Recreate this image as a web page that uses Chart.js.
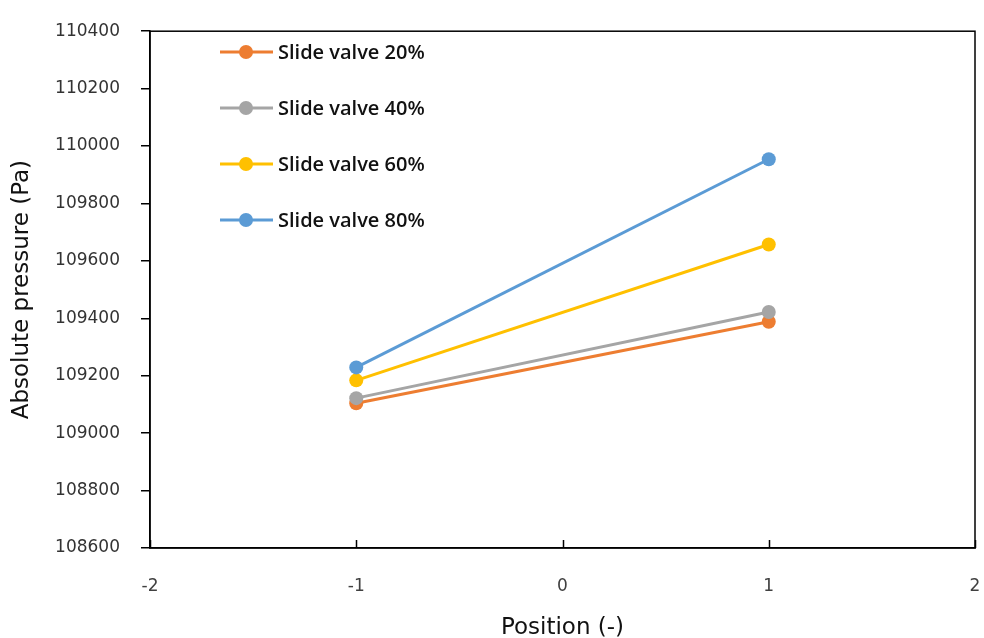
<!DOCTYPE html>
<html>
<head>
<meta charset="utf-8">
<script src="https://cdn.jsdelivr.net/npm/chart.js@4/dist/chart.umd.min.js"></script>
<style>
  html, body { margin: 0; padding: 0; background: #fff; }
  #wrap { width: 984px; height: 638px; position: relative; }
</style>
</head>
<body>
<div id="wrap"><canvas id="c"></canvas></div>
<script>
// Measurement positions along the x axis
const positions = [-1, 1];

// Absolute pressure (Pa) for each slide valve opening
const valve20 = [109104, 109388];
const valve40 = [109122, 109422];
const valve60 = [109184, 109657];
const valve80 = [109229, 109954];

const seriesNames = ['Slide valve 20%', 'Slide valve 40%', 'Slide valve 60%', 'Slide valve 80%'];
const seriesColors = ['#ED7D31', '#A5A5A5', '#FFC000', '#5B9BD5'];

const xTicks = [-2, -1, 0, 1, 2];
const yMin = 108600, yMax = 110400, yStep = 200;

const TICK_FONT = '"DejaVu Sans", sans-serif';
const LEGEND_FONT = '"Open Sans", "DejaVu Sans", sans-serif';

function makeSet(name, vals, color) {
  return {
    label: name,
    data: positions.map((x, i) => ({ x: x, y: vals[i] })),
    borderColor: color,
    backgroundColor: color,
    borderWidth: 3,
    pointRadius: 7,
    pointHoverRadius: 7,
    pointBorderWidth: 0,
    showLine: true,
    fill: false,
    tension: 0
  };
}

const datasets = [
  makeSet(seriesNames[0], valve20, seriesColors[0]),
  makeSet(seriesNames[1], valve40, seriesColors[1]),
  makeSet(seriesNames[2], valve60, seriesColors[2]),
  makeSet(seriesNames[3], valve80, seriesColors[3])
];
// later series are drawn above earlier ones
datasets.forEach((d, i) => { d.order = datasets.length - i; });

// Frame around the plot area, inward x ticks and the in-plot legend
const framePlugin = {
  id: 'frame',
  afterDraw(chart) {
    const { ctx, chartArea: a, scales } = chart;
    ctx.save();
    ctx.strokeStyle = '#000';
    ctx.lineWidth = 1.5;
    ctx.strokeRect(a.left, a.top, a.right - a.left, a.bottom - a.top);
    // inward ticks on the x axis
    ctx.beginPath();
    xTicks.forEach(v => {
      const px = Math.round(scales.x.getPixelForValue(v)) + 0.5;
      ctx.moveTo(px, a.bottom);
      ctx.lineTo(px, a.bottom - 8);
    });
    ctx.stroke();

    // legend
    const lx = 220, ly0 = 52, dy = 56;
    ctx.font = '600 20px ' + LEGEND_FONT;
    ctx.textBaseline = 'middle';
    ctx.textAlign = 'left';
    seriesNames.forEach((name, i) => {
      const y = ly0 + i * dy;
      ctx.strokeStyle = seriesColors[i];
      ctx.lineWidth = 3;
      ctx.beginPath();
      ctx.moveTo(lx, y);
      ctx.lineTo(lx + 53, y);
      ctx.stroke();
      ctx.fillStyle = seriesColors[i];
      ctx.beginPath();
      ctx.arc(lx + 26, y, 7, 0, Math.PI * 2);
      ctx.fill();
      ctx.fillStyle = '#111';
      ctx.fillText(name, lx + 58, y + 1);
    });
    ctx.restore();
  }
};

new Chart(document.getElementById('c'), {
  type: 'scatter',
  data: { datasets: datasets },
  options: {
    responsive: true,
    maintainAspectRatio: false,
    animation: false,
    layout: { padding: { top: 27, right: 9, left: 0, bottom: 0 } },
    plugins: {
      legend: { display: false },
      tooltip: { enabled: false },
      title: { display: false }
    },
    scales: {
      x: {
        type: 'linear',
        min: -2, max: 2,
        afterBuildTicks(scale) { scale.ticks = xTicks.map(v => ({ value: v })); },
        afterFit(scale) {
          scale.height = 90;
          scale.paddingLeft = 0;
          scale.paddingRight = 0;
        },
        grid: { display: false, drawTicks: false },
        border: { display: true, color: '#000', width: 1.5 },
        ticks: {
          color: '#404040',
          font: { family: TICK_FONT, size: 17 },
          padding: 28,
          callback: v => String(v)
        },
        title: {
          display: true,
          text: 'Position (-)',
          color: '#111',
          font: { family: TICK_FONT, size: 23 },
          padding: { top: 10, bottom: -4 }
        }
      },
      y: {
        min: yMin, max: yMax,
        afterBuildTicks(scale) {
          const t = [];
          for (let v = yMin; v <= yMax; v += yStep) t.push({ value: v });
          scale.ticks = t;
        },
        afterFit(scale) { scale.width = 150; },
        grid: { drawOnChartArea: false, drawTicks: true, tickLength: 9, color: '#000', lineWidth: 1.5 },
        border: { display: true, color: '#000', width: 1.5 },
        ticks: {
          color: '#333',
          font: { family: TICK_FONT, size: 17 },
          padding: 21,
          callback: v => String(v)
        },
        title: {
          display: true,
          text: 'Absolute pressure (Pa)',
          color: '#111',
          font: { family: TICK_FONT, size: 23 },
          padding: { top: 8, bottom: 6 }
        }
      }
    }
  },
  plugins: [framePlugin]
});
</script>
</body>
</html>
